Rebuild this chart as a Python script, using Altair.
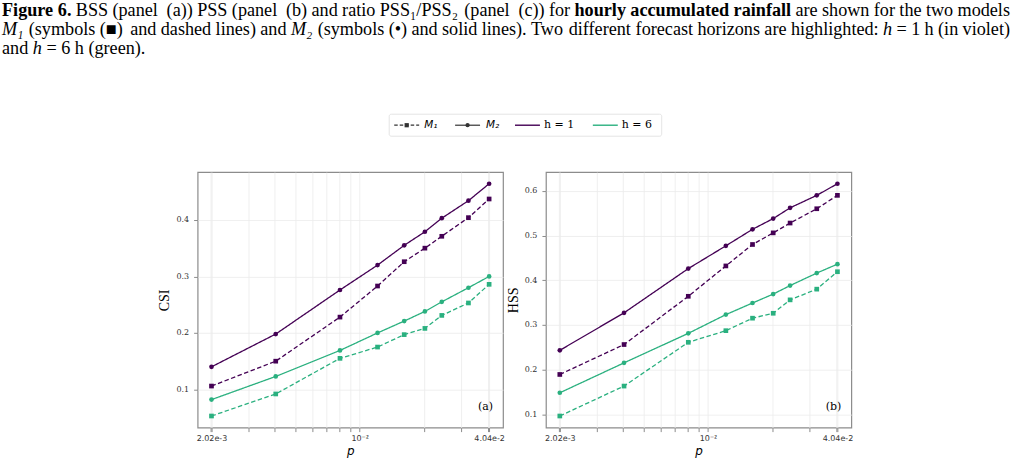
import altair as alt
import pandas as pd

# Threshold probabilities p (x axis, log scale)
p_values = [0.00202, 0.00404, 0.00808, 0.01212, 0.01616, 0.0202, 0.02424, 0.03232, 0.0404]

# CSI, panel (a)
csi_m1_h1 = [0.106, 0.150, 0.228, 0.283, 0.326, 0.350, 0.371, 0.404, 0.437]
csi_m2_h1 = [0.140, 0.198, 0.276, 0.320, 0.355, 0.379, 0.403, 0.434, 0.464]
csi_m1_h6 = [0.053, 0.092, 0.155, 0.175, 0.197, 0.208, 0.231, 0.253, 0.286]
csi_m2_h6 = [0.082, 0.123, 0.169, 0.200, 0.221, 0.238, 0.255, 0.280, 0.300]

# HSS, panel (b)
hss_m1_h1 = [0.189, 0.256, 0.364, 0.432, 0.480, 0.506, 0.528, 0.560, 0.590]
hss_m2_h1 = [0.243, 0.327, 0.426, 0.477, 0.514, 0.538, 0.562, 0.590, 0.616]
hss_m1_h6 = [0.096, 0.163, 0.261, 0.287, 0.315, 0.326, 0.356, 0.380, 0.419]
hss_m2_h6 = [0.148, 0.215, 0.281, 0.323, 0.349, 0.369, 0.388, 0.416, 0.436]

# Log-axis grid positions and the three labelled ticks
x_grid = [0.002, 0.00202, 0.003, 0.004, 0.005, 0.006, 0.007, 0.008, 0.009,
          0.01, 0.02, 0.03, 0.04, 0.0404]
x_label_expr = ("datum.value == 0.00202 ? '2.02e-3' : datum.value == 0.01 ? '10⁻²' : "
                "datum.value == 0.0404 ? '4.04e-2' : ''")
csi_ticks = [0.1, 0.2, 0.3, 0.4]
hss_ticks = [0.1, 0.2, 0.3, 0.4, 0.5, 0.6]

# Caption lines as (word, style) runs; "b" bold, "i" italic, "" roman.
# An empty word stands for an extra space.
caption_lines = [
    [("Figure", "b"), ("6.", "b"), ("BSS", ""), ("(panel", ""), ("", ""), ("(a))", ""),
     ("PSS", ""), ("(panel", ""), ("", ""), ("(b)", ""), ("and", ""), ("ratio", ""),
     ("PSS₁/PSS₂", ""), ("(panel", ""), ("", ""), ("(c))", ""), ("for", ""),
     ("hourly", "b"), ("accumulated", "b"), ("rainfall", "b"),
     ("are", ""), ("shown", ""), ("for", ""), ("the", ""), ("two", ""), ("models", "")],
    [("M₁", "i"), ("(symbols", ""), ("(■)", ""), ("and", ""), ("dashed", ""),
     ("lines)", ""), ("and", ""), ("M₂", "i"), ("(symbols", ""), ("(•)", ""),
     ("and", ""), ("solid", ""), ("lines).", ""), ("Two", ""), ("different", ""),
     ("forecast", ""), ("horizons", ""), ("are", ""), ("highlighted:", ""),
     ("h", "i"), ("=", ""), ("1", ""), ("h", ""), ("(in", ""), ("violet)", "")],
    [("and", ""), ("h", "i"), ("=", ""), ("6", ""), ("h", ""), ("(green).", "")],
]
caption_justified = [True, True, False]
caption_baselines = [15, 34, 53]

# Advance widths (1/1000 em) of the Times faces used for the caption
TIMES = dict(zip("ABCDEFGHIJKLMNOPQRSTUVWXYZ",
                 [722, 667, 667, 722, 611, 556, 722, 722, 333, 389, 722, 611, 889,
                  722, 722, 556, 722, 667, 556, 611, 722, 722, 944, 722, 722, 611]))
TIMES.update(zip("abcdefghijklmnopqrstuvwxyz",
                 [444, 500, 444, 500, 444, 333, 500, 500, 278, 278, 500, 278, 778,
                  500, 500, 500, 500, 333, 389, 278, 500, 500, 722, 500, 500, 444]))
TIMES.update({c: 500 for c in "0123456789"})
TIMES.update({" ": 250, "(": 333, ")": 333, ".": 250, ",": 250, ":": 278, "/": 278,
              "=": 564, "-": 333, "₁": 400, "₂": 400, "■": 770, "•": 350})
TIMES_BOLD = dict(TIMES)
TIMES_BOLD.update({"F": 611, "a": 500, "b": 556, "d": 556, "h": 556, "n": 556,
                   "u": 556, "r": 444, "t": 333, "m": 833, "k": 556})
TIMES_ITALIC = dict(TIMES)
TIMES_ITALIC.update({"M": 833, "h": 500})
FACES = {"": TIMES, "b": TIMES_BOLD, "i": TIMES_ITALIC}

CAP_SIZE = 18.2
CAP_LEFT, CAP_RIGHT = 1, 1011

PURPLE = "#440154"
GREEN = "#2ab07f"
FRAME = "#8c8c8c"

W, H = 306, 256          # plot area of each panel
GAP = 43                 # space between the two plot areas
OX, OY = 197, 171        # page position of the left plot area

one = pd.DataFrame({"k": [0]})


def word_width(word, style):
    face = FACES[style]
    return sum(face.get(ch, 500) for ch in word) / 1000 * CAP_SIZE


def layout_caption():
    rows = []
    space = 0.25 * CAP_SIZE
    for words, justify, base in zip(caption_lines, caption_justified, caption_baselines):
        widths = [word_width(w, s) for w, s in words]
        gaps = len(words) - 1
        natural = sum(widths) + gaps * space
        extra = (CAP_RIGHT - CAP_LEFT - natural) / gaps if justify else 0.0
        x = CAP_LEFT
        for (w, s), wd in zip(words, widths):
            if w:
                rows.append({"word": w, "style": s, "px": x - OX, "py": base - OY})
            x += wd + space + extra
    return pd.DataFrame(rows)


def long_frame(series):
    rows = []
    for (model, h), vals in series.items():
        for p, v in zip(p_values, vals):
            rows.append({"p": p, "value": v, "model": model, "h": h})
    return pd.DataFrame(rows)


csi = long_frame({("M1", "1"): csi_m1_h1, ("M2", "1"): csi_m2_h1,
                  ("M1", "6"): csi_m1_h6, ("M2", "6"): csi_m2_h6})
hss = long_frame({("M1", "1"): hss_m1_h1, ("M2", "1"): hss_m2_h1,
                  ("M1", "6"): hss_m1_h6, ("M2", "6"): hss_m2_h6})

span = p_values[-1] / p_values[0]
x_domain = [p_values[0] / span ** 0.05, p_values[-1] * span ** 0.05]


def page_text(txt, px, py, size, font, style="normal", align="left",
              baseline="alphabetic", color="black"):
    return alt.Chart(one).mark_text(
        text=txt, align=align, baseline=baseline, font=font, fontSize=size,
        fontStyle=style, color=color
    ).encode(x=alt.value(px - OX), y=alt.value(py - OY))


def page_rule(x1, x2, py, color, dash=None, width=1.4):
    kw = dict(color=color, strokeWidth=width)
    if dash:
        kw["strokeDash"] = dash
    return alt.Chart(one).mark_rule(**kw).encode(
        x=alt.value(x1 - OX), x2=alt.value(x2 - OX), y=alt.value(py - OY))


def page_symbol(px, py, shape, color, size=18):
    return alt.Chart(one).mark_point(shape=shape, filled=True, opacity=1,
                                     color=color, size=size).encode(
        x=alt.value(px - OX), y=alt.value(py - OY))


def panel(df, ytitle, yticks, tag, extra=()):
    vmin, vmax = df["value"].min(), df["value"].max()
    pad = 0.05 * (vmax - vmin)
    x = alt.X("p:Q",
              scale=alt.Scale(type="log", domain=x_domain, nice=False),
              axis=alt.Axis(values=x_grid, labelExpr=x_label_expr, title="p",
                            labelFont="DejaVu Sans", labelFontSize=8,
                            labelPadding=3, labelOverlap=False,
                            titleFont="DejaVu Sans", titleFontStyle="italic",
                            titleFontWeight="normal", titleFontSize=12,
                            titlePadding=3))
    y = alt.Y("value:Q",
              scale=alt.Scale(domain=[vmin - pad, vmax + pad], nice=False, zero=False),
              axis=alt.Axis(values=yticks, format=".1f", title=ytitle,
                            labelFont="DejaVu Serif", labelFontSize=8,
                            labelPadding=5,
                            titleFont="Liberation Serif", titleFontSize=14,
                            titleFontWeight="normal", titlePadding=4))
    color = alt.Color("h:N", scale=alt.Scale(domain=["1", "6"], range=[PURPLE, GREEN]),
                      legend=None)
    lines = alt.Chart(df).mark_line(strokeWidth=1.3).encode(
        x=x, y=y, color=color,
        strokeDash=alt.StrokeDash("model:N",
                                  scale=alt.Scale(domain=["M1", "M2"],
                                                  range=[[4.5, 2.5], [1, 0]]),
                                  legend=None))
    points = alt.Chart(df).mark_point(filled=True, opacity=1, size=22).encode(
        x=x, y=y, color=color,
        shape=alt.Shape("model:N",
                        scale=alt.Scale(domain=["M1", "M2"], range=["square", "circle"]),
                        legend=None))
    label = alt.Chart(one).mark_text(
        text=tag, align="right", baseline="middle", font="DejaVu Serif", fontSize=11
    ).encode(x=alt.value(W - 10), y=alt.value(H - 21))
    return alt.layer(*extra, lines, points, label).properties(width=W, height=H)


# Caption, legend and page frame drawn around the left panel
words = layout_caption()
decor = [
    alt.Chart(one).mark_rect(fillOpacity=0, strokeOpacity=0).encode(
        x=alt.value(-OX), x2=alt.value(1015 - OX),
        y=alt.value(-OY), y2=alt.value(464 - OY)),
]
for style, weight, fstyle in [("", "normal", "normal"), ("b", "bold", "normal"),
                              ("i", "normal", "italic")]:
    decor.append(
        alt.Chart(words[words["style"] == style]).mark_text(
            align="left", baseline="alphabetic", font="Liberation Serif",
            fontSize=CAP_SIZE, fontWeight=weight, fontStyle=fstyle, color="black"
        ).encode(x=alt.X("px:Q", scale=None), y=alt.Y("py:Q", scale=None),
                 text="word:N"))

decor += [
    alt.Chart(one).mark_rect(fill="white", stroke="#dddddd", strokeWidth=0.8,
                             cornerRadius=2).encode(
        x=alt.value(389 - OX), x2=alt.value(662 - OX),
        y=alt.value(113 - OY), y2=alt.value(135 - OY)),
    page_rule(394, 419, 124, "#333333", dash=[3.5, 2], width=1.2),
    page_symbol(406.5, 124, "square", "#333333"),
    page_text("M₁", 424, 124, 10.5, "DejaVu Sans", style="italic", baseline="middle"),
    page_rule(455, 480, 124, "#333333", width=1.2),
    page_symbol(467.5, 124, "circle", "#333333"),
    page_text("M₂", 486, 124, 10.5, "DejaVu Sans", style="italic", baseline="middle"),
    page_rule(515, 540, 124, PURPLE),
    page_text("h = 1", 544, 124, 11, "DejaVu Serif", baseline="middle"),
    page_rule(593, 618, 124, GREEN),
    page_text("h = 6", 622, 124, 11, "DejaVu Serif", baseline="middle"),
]

left = panel(csi, "CSI", csi_ticks, "(a)", extra=decor)
right = panel(hss, "HSS", hss_ticks, "(b)")

chart = alt.hconcat(left, right, spacing=GAP, bounds="flush").properties(
    padding=0, background="white"
).configure_view(
    stroke=FRAME, strokeWidth=1.2
).configure_axis(
    gridColor="#ebebeb", gridWidth=0.8, domain=False,
    tickColor=FRAME, tickSize=4, labelColor="#333333", titleColor="black"
)

chart.save("out.html", embed_options={"renderer": "svg", "actions": False})
